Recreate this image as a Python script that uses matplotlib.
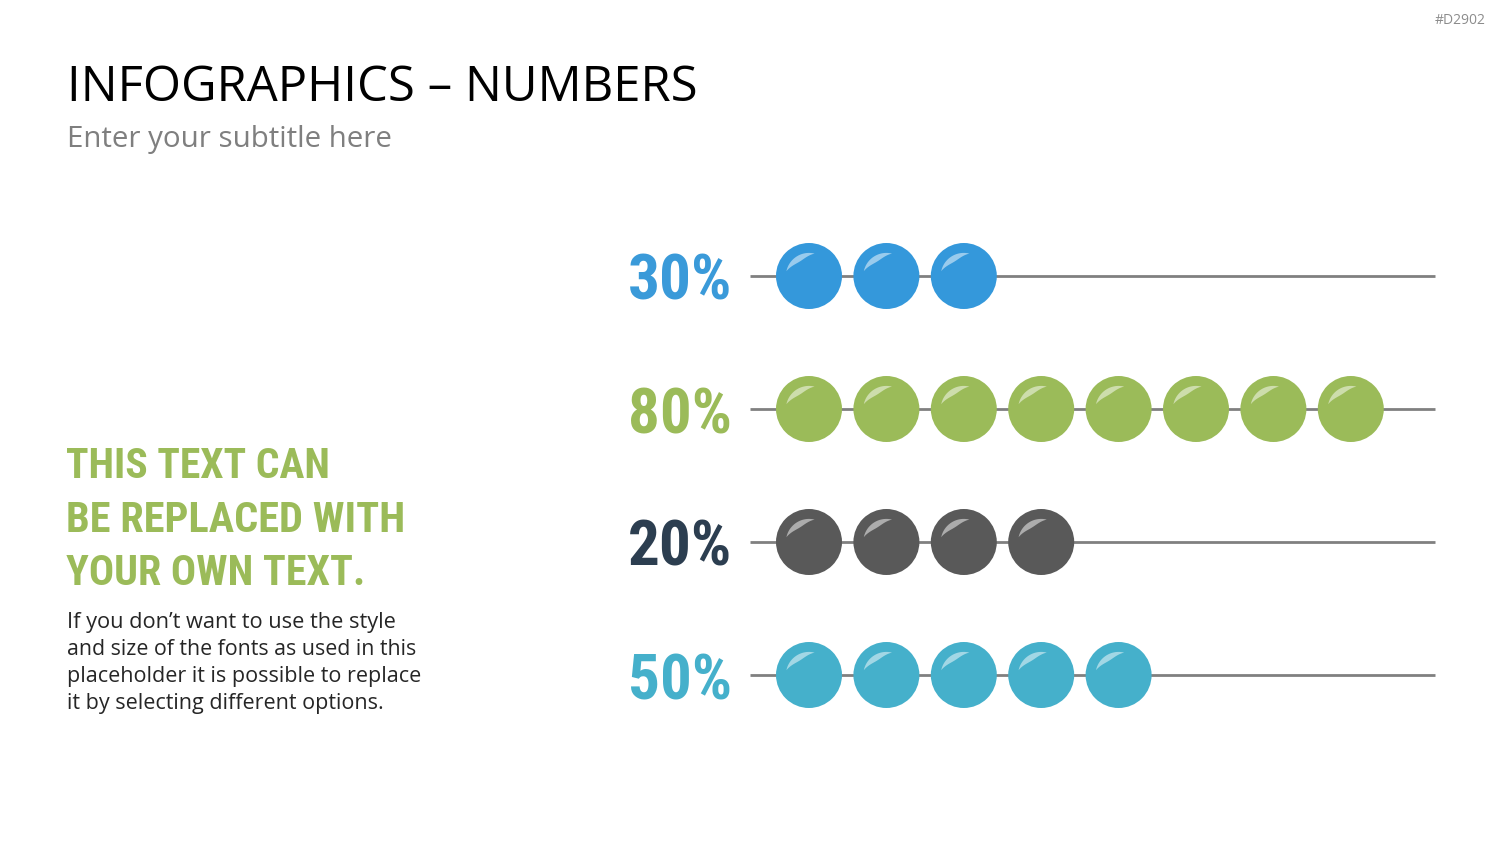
import numpy as np
import matplotlib.pyplot as plt
from matplotlib.patches import Circle, Polygon

# data
labels = ['30%', '80%', '20%', '50%']
beads = [3, 8, 4, 5]  # beads drawn on each row, as in the slide

label_colors = ['#3A9AD9', '#9BBB59', '#2C3E50', '#45B0CB']
bead_colors = ['#3498DB', '#9BBB59', '#595959', '#45B0CB']

title = 'INFOGRAPHICS \u2013 NUMBERS'
subtitle = 'Enter your subtitle here'
tag = '#D2902'
heading = ['THIS TEXT CAN', 'BE REPLACED WITH', 'YOUR OWN TEXT.']
body = ['If you don\u2019t want to use the style',
        'and size of the fonts as used in this',
        'placeholder it is possible to replace',
        'it by selecting different options.']

NARROW = ['Roboto Condensed', 'Open Sans Condensed', 'Liberation Sans Narrow',
          'DejaVu Sans']
SANS = ['Open Sans', 'DejaVu Sans']


def fit(fig, txt, width, max_size):
    # shrink a text so it spans about `width` pixels
    r = fig.canvas.get_renderer()
    w = txt.get_window_extent(r).width
    txt.set_fontsize(min(max_size, txt.get_fontsize() * width / w))


def highlight(ax, cx, cy, r):
    # white crescent glint at the upper left of a bead
    t = np.linspace(np.radians(76), np.radians(168), 40)
    ro = 0.70 * r
    thick = 0.18 * r * np.sin(np.pi * (t - t[0]) / (t[-1] - t[0]))
    outer = np.c_[cx + ro * np.cos(t), cy - ro * np.sin(t)]
    inner = np.c_[cx + (ro - thick) * np.cos(t), cy - (ro - thick) * np.sin(t)][::-1]
    ax.add_patch(Polygon(np.vstack([outer, inner]), closed=True,
                         facecolor='white', alpha=0.5, edgecolor='none', zorder=4))


def main():
    fig = plt.figure(figsize=(15, 8.44), dpi=100)
    ax = fig.add_axes([0, 0, 1, 1])
    ax.set_xlim(0, 1500)
    ax.set_ylim(844, 0)
    ax.axis('off')

    # header
    t = ax.text(67, 101, title, fontsize=38, family=SANS, color='black', va='baseline')
    fit(fig, t, 631, 38)
    t = ax.text(67, 147, subtitle, fontsize=22, family=SANS, color='#7F7F7F', va='baseline')
    fit(fig, t, 325, 22)
    ax.text(1486, 24, tag, fontsize=10, family=SANS, color='#8C8C8C', ha='right',
            va='baseline')

    # left text block
    for i, line in enumerate(heading):
        t = ax.text(66, 478 + i * 53.5, line, fontsize=42, family=NARROW, weight='bold',
                    stretch='condensed', color='#9BBB59', va='baseline')
        fit(fig, t, [265, 340, 300][i], 42)
    for i, line in enumerate(body):
        t = ax.text(67, 628 + i * 27, line, fontsize=16, family=SANS, color='#262626',
                    va='baseline')
        fit(fig, t, [329, 349, 352, 316][i], 16)

    # bead rows
    row0, row_gap = 276, 133
    x0, gap, r = 809, 77.4, 33
    for i, (lab, n) in enumerate(zip(labels, beads)):
        y = row0 + i * row_gap
        ax.plot([750, 1435], [y, y], color='#808080', lw=2, zorder=1,
                solid_capstyle='butt')
        t = ax.text(732, y + 24, lab, fontsize=50, family=NARROW, weight='bold',
                    stretch='condensed', color=label_colors[i], ha='right', va='baseline')
        fit(fig, t, 104, 50)
        for k in range(n):
            cx = x0 + k * gap
            ax.add_patch(Circle((cx, y), r, facecolor=bead_colors[i],
                                edgecolor='none', zorder=3))
            highlight(ax, cx, y, r)

    fig.savefig('out.png', dpi=100, facecolor='white')


if __name__ == '__main__':
    main()
